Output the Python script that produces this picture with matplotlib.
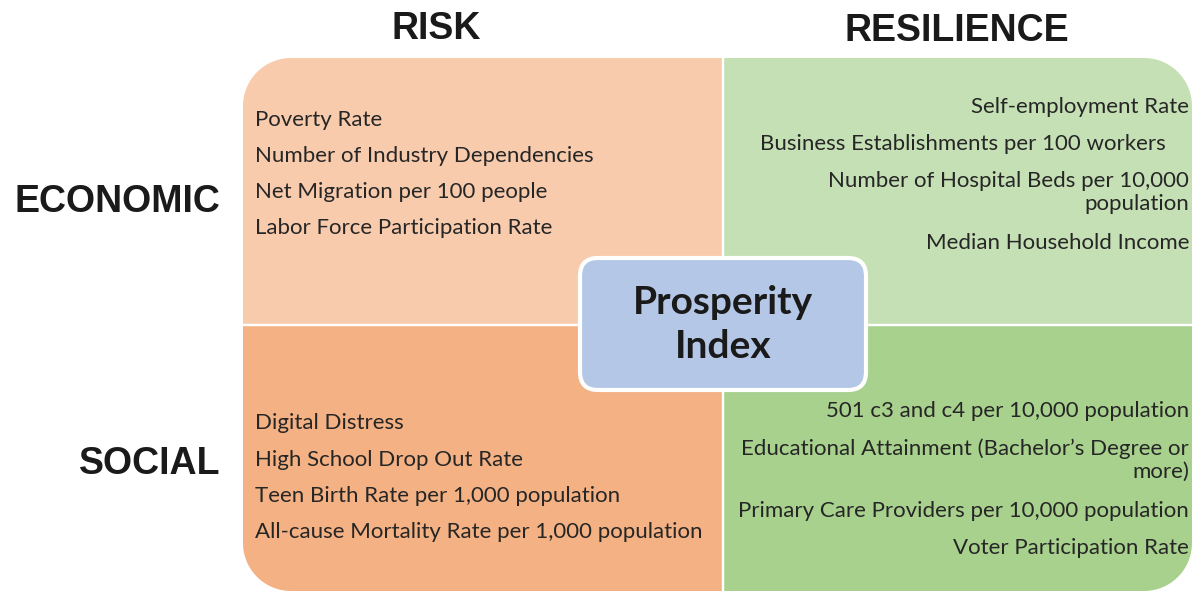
import numpy as np
import matplotlib
matplotlib.use("Agg")
import matplotlib.pyplot as plt
from matplotlib.patches import Polygon, FancyBboxPatch

# column / row headers
col_labels = ["RISK", "RESILIENCE"]
row_labels = ["ECONOMIC", "SOCIAL"]
center_label = "Prosperity\nIndex"

# quadrant contents
risk_economic = ["Poverty Rate", "Number of Industry Dependencies",
                 "Net Migration per 100 people", "Labor Force Participation Rate"]
risk_social = ["Digital Distress", "High School Drop Out Rate",
               "Teen Birth Rate per 1,000 population",
               "All-cause Mortality Rate per 1,000 population"]
res_economic = ["Self-employment Rate", "Business Establishments per 100 workers    ",
                "Number of Hospital Beds per 10,000\npopulation", "Median Household Income"]
res_social = ["501 c3 and c4 per 10,000 population",
              "Educational Attainment (Bachelor\u2019s Degree or\nmore)",
              "Primary Care Providers per 10,000 population", "Voter Participation Rate"]

colors = {"re": "#F8CBAD", "rs": "#F4B183", "se": "#C5E0B4", "ss": "#A9D18E",
          "center": "#B4C7E7"}
text_col = "#262626"
item_font = ["Lato", "DejaVu Sans"]
head_font = ["Liberation Sans", "DejaVu Sans"]


def rounded_quad(x0, y0, x1, y1, corner, r, n=30):
    # rectangle with one rounded corner (pixel coords, y down)
    pts = []
    corners = {"tl": (x0, y0), "tr": (x1, y0), "br": (x1, y1), "bl": (x0, y1)}
    for c in ["tl", "tr", "br", "bl"]:
        cx, cy = corners[c]
        if c != corner:
            pts.append((cx, cy))
            continue
        sx = 1 if cx == x0 else -1
        sy = 1 if cy == y0 else -1
        ox, oy = cx + sx * r, cy + sy * r
        angs = np.linspace(0, np.pi / 2, n)
        arc = [(ox - sx * r * np.cos(a), oy - sy * r * np.sin(a)) for a in angs]
        pts.extend(arc if c in ("tl", "br") else arc[::-1])
    return pts


fig = plt.figure(figsize=(11.92, 5.92), dpi=100)
ax = fig.add_axes([0, 0, 1, 1])
ax.set_xlim(0, 1192)
ax.set_ylim(592, 0)
ax.axis("off")

xl0, xm, xr1 = 243, 723, 1192
yt0, ym, yb1 = 58, 325, 591
g = 1.2
quads = [
    (xl0, yt0, xm - g, ym - g, "tl", colors["re"]),
    (xm + g, yt0, xr1, ym - g, "tr", colors["se"]),
    (xl0, ym + g, xm - g, yb1, "bl", colors["rs"]),
    (xm + g, ym + g, xr1, yb1, "br", colors["ss"]),
]
for x0, y0, x1, y1, c, col in quads:
    pts = rounded_quad(x0, y0, x1, y1, c, 48)
    ax.add_patch(Polygon(pts, closed=True, facecolor=col, edgecolor="none"))

# headers
hs = 27
ax.text(436, 29, col_labels[0], ha="center", va="center", fontsize=hs,
        fontweight="bold", family=head_font, color="#1a1a1a")
ax.text(957, 31, col_labels[1], ha="center", va="center", fontsize=hs,
        fontweight="bold", family=head_font, color="#1a1a1a")
ax.text(117, 202, row_labels[0], ha="center", va="center", fontsize=hs,
        fontweight="bold", family=head_font, color="#1a1a1a")
ax.text(150, 464, row_labels[1], ha="center", va="center", fontsize=hs,
        fontweight="bold", family=head_font, color="#1a1a1a")

fs = 16
for items, ys in [(risk_economic, [120, 156, 192, 228]),
                  (risk_social, [423, 460, 496, 532])]:
    for t, y in zip(items, ys):
        ax.text(255, y, t, ha="left", va="center", fontsize=fs,
                family=item_font, color=text_col)

for items, ys in [(res_economic, [107, 144, 181, 243]),
                  (res_social, [411, 449, 511, 548])]:
    for t, y in zip(items, ys):
        ax.text(1189, y, t.split("\n")[0], ha="right", va="center", fontsize=fs,
                family=item_font, color=text_col)
        if "\n" in t:
            ax.text(1189, y + 23, t.split("\n")[1], ha="right", va="center",
                    fontsize=fs, family=item_font, color=text_col)

# center box
box = FancyBboxPatch((580 + 18, 258 + 18), 286 - 36, 132 - 36,
                     boxstyle="round,pad=18", facecolor=colors["center"],
                     edgecolor="white", linewidth=3)
ax.add_patch(box)
ax.text(723, 303, center_label.split("\n")[0], ha="center", va="center",
        fontsize=28, fontweight="bold", family=item_font, color="#1a1a1a")
ax.text(723, 347, center_label.split("\n")[1], ha="center", va="center",
        fontsize=28, fontweight="bold", family=item_font, color="#1a1a1a")

fig.savefig("out.png", dpi=100, facecolor="white")
